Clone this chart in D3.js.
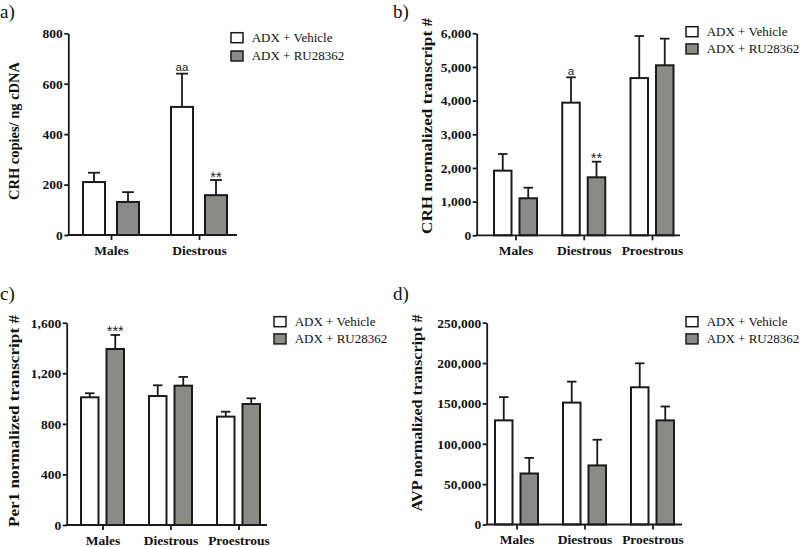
<!DOCTYPE html>
<html>
<head>
<meta charset="utf-8">
<script src="https://cdn.jsdelivr.net/npm/d3@7"></script>
<style>
  html, body { margin: 0; padding: 0; background: #fff; }
  svg { display: block; }
</style>
</head>
<body>
<svg id="chart" width="800" height="547"></svg>
<script>
// ---------------- DATA ----------------
const seriesNames = ["ADX + Vehicle", "ADX + RU28362"];
const categoriesA = ["Males", "Diestrous"];
const categoriesBCD = ["Males", "Diestrous", "Proestrous"];

// a) CRH copies / ng cDNA
const crhCopiesVehicle = [210, 508];
const crhCopiesVehicleSem = [37, 132];
const crhCopiesRU = [131, 158];
const crhCopiesRUSem = [39, 60];
const ticksA = [0, 200, 400, 600, 800];

// b) CRH normalized transcript #
const crhNormVehicle = [1920, 3940, 4670];
const crhNormVehicleSem = [495, 753, 1250];
const crhNormRU = [1100, 1723, 5050];
const crhNormRUSem = [314, 463, 791];
const ticksB = [0, 1000, 2000, 3000, 4000, 5000, 6000];

// c) Per1 normalized transcript #
const per1Vehicle = [1010, 1020, 857];
const per1VehicleSem = [32, 85, 39];
const per1RU = [1392, 1102, 957];
const per1RUSem = [111, 69, 45];
const ticksC = [0, 400, 800, 1200, 1600];

// d) AVP normalized transcript #
const avpVehicle = [129000, 151000, 170000];
const avpVehicleSem = [28800, 26000, 29700];
const avpRU = [63200, 73200, 129000];
const avpRUSem = [19300, 31800, 17200];
const ticksD = [0, 50000, 100000, 150000, 200000, 250000];

const panelLabels = ["a)", "b)", "c)", "d)"];
const yTitles = ["CRH copies/ ng cDNA", "CRH normalized transcript #",
                 "Per1 normalized transcript #", "AVP normalized transcript #"];

// significance marks: [category, series index, text]
const annotA = [["Diestrous", 0, "aa"], ["Diestrous", 1, "**"]];
const annotB = [["Diestrous", 0, "a"], ["Diestrous", 1, "**"]];
const annotC = [["Males", 1, "***"]];
const annotD = [];

// ---------------- LAYOUT ----------------
const INK = "#1a1a1a";
const GRAY = "#8a8b85";
const SERIF = "'Liberation Serif', 'Times New Roman', Times, serif";
const SANS = "'Liberation Sans', Arial, sans-serif";

const panels = [
  { cats: categoriesA, vals: [crhCopiesVehicle, crhCopiesRU], sems: [crhCopiesVehicleSem, crhCopiesRUSem],
    ticks: ticksA, annot: annotA, label: panelLabels[0], title: yTitles[0],
    x0: 68.3, x1: 237, c0: 111, c1: 199, yTop: 33.3, yBot: 235, barW: 22, off: 17,
    labX: 0, labY: 18, titleX: 19, titleY: 131, titleLen: 138,
    legX: 231, legY: 32.7, legDy: 18.3 },
  { cats: categoriesBCD, vals: [crhNormVehicle, crhNormRU], sems: [crhNormVehicleSem, crhNormRUSem],
    ticks: ticksB, annot: annotB, label: panelLabels[1], title: yTitles[1],
    x0: 476.7, x1: 680, c0: 515.5, c1: 652, yTop: 33.3, yBot: 235.3, barW: 17.5, off: 12.75,
    labX: 393, labY: 18, titleX: 432, titleY: 126, titleLen: 216,
    legX: 686, legY: 26.7, legDy: 17.2 },
  { cats: categoriesBCD, vals: [per1Vehicle, per1RU], sems: [per1VehicleSem, per1RUSem],
    ticks: ticksC, annot: annotC, label: panelLabels[2], title: yTitles[2],
    x0: 66.7, x1: 267, c0: 102.5, c1: 238.5, yTop: 322.7, yBot: 525, barW: 17.5, off: 12.75,
    labX: 0, labY: 300, titleX: 19, titleY: 421, titleLen: 212,
    legX: 274, legY: 316.7, legDy: 17.2 },
  { cats: categoriesBCD, vals: [avpVehicle, avpRU], sems: [avpVehicleSem, avpRUSem],
    ticks: ticksD, annot: annotD, label: panelLabels[3], title: yTitles[3],
    x0: 486.7, x1: 682, c0: 516.5, c1: 652.5, yTop: 322.7, yBot: 524.5, barW: 17.5, off: 12.75,
    labX: 393, labY: 300, titleX: 422, titleY: 413, titleLen: 197,
    legX: 686, legY: 316.7, legDy: 17.2 }
];

const svg = d3.select("#chart");
svg.append("rect").attr("width", 800).attr("height", 547).attr("fill", "#fff");
const fmt = d3.format(",");

panels.forEach(p => {
  const g = svg.append("g");
  const y = d3.scaleLinear().domain([0, d3.max(p.ticks)]).range([p.yBot, p.yTop]);
  const x = d3.scalePoint().domain(p.cats).range([p.c0, p.c1]);
  const inner = d3.scaleOrdinal().domain([0, 1]).range([-p.off, p.off]);
  const fills = ["#ffffff", GRAY];

  // bars + error bars
  const rows = [];
  p.cats.forEach((c, i) => {
    [0, 1].forEach(s => rows.push({ c, s, v: p.vals[s][i], e: p.sems[s][i] }));
  });
  const cap = p.barW * 0.54;

  g.selectAll(".err").data(rows).join("line")
    .attr("x1", d => x(d.c) + inner(d.s)).attr("x2", d => x(d.c) + inner(d.s))
    .attr("y1", d => y(d.v)).attr("y2", d => y(d.v + d.e))
    .attr("stroke", INK).attr("stroke-width", 1.8);
  g.selectAll(".cap").data(rows).join("line")
    .attr("x1", d => x(d.c) + inner(d.s) - cap / 2).attr("x2", d => x(d.c) + inner(d.s) + cap / 2)
    .attr("y1", d => y(d.v + d.e)).attr("y2", d => y(d.v + d.e))
    .attr("stroke", INK).attr("stroke-width", 1.8);
  g.selectAll(".bar").data(rows).join("rect")
    .attr("x", d => x(d.c) + inner(d.s) - p.barW / 2)
    .attr("y", d => y(d.v))
    .attr("width", p.barW)
    .attr("height", d => y(0) - y(d.v))
    .attr("fill", d => fills[d.s])
    .attr("stroke", INK).attr("stroke-width", 2);

  // annotations
  p.annot.forEach(([c, s, t]) => {
    const i = p.cats.indexOf(c);
    const top = y(p.vals[s][i] + p.sems[s][i]);
    const isStar = t.indexOf("*") >= 0;
    g.append("text")
      .attr("x", x(c) + inner(s))
      .attr("y", isStar ? top + 1.5 : top - 2.5)
      .attr("text-anchor", "middle")
      .attr("font-family", SANS)
      .attr("font-size", isStar ? 14.5 : 11.5)
      .attr("fill", "#222")
      .text(t);
  });

  // y axis
  const ya = g.append("g").attr("transform", `translate(${p.x0},0)`)
    .call(d3.axisLeft(y).tickValues(p.ticks).tickFormat(fmt).tickSize(4).tickPadding(1.5).tickSizeOuter(0));
  ya.select(".domain").attr("stroke", INK).attr("stroke-width", 1.8);
  ya.selectAll(".tick line").attr("stroke", INK).attr("stroke-width", 1.8);
  ya.selectAll(".tick text").attr("font-family", SERIF).attr("font-weight", "bold")
    .attr("font-size", 13.5).attr("fill", "#111");

  // x axis
  const xa = g.append("g").attr("transform", `translate(0,${p.yBot})`)
    .call(d3.axisBottom(x).tickSize(5).tickPadding(5).tickSizeOuter(0));
  xa.select(".domain").remove();
  xa.selectAll(".tick line").attr("stroke", INK).attr("stroke-width", 1.8);
  xa.selectAll(".tick text").attr("font-family", SERIF).attr("font-weight", "bold")
    .attr("font-size", 13.5).attr("fill", "#111");
  g.append("line").attr("x1", p.x0 - 0.9).attr("x2", p.x1)
    .attr("y1", p.yBot).attr("y2", p.yBot)
    .attr("stroke", INK).attr("stroke-width", 1.8);

  // y title
  g.append("text")
    .attr("transform", `translate(${p.titleX},${p.titleY}) rotate(-90)`)
    .attr("text-anchor", "middle")
    .attr("font-family", SERIF).attr("font-weight", "bold").attr("font-size", 15.5)
    .attr("textLength", p.titleLen).attr("lengthAdjust", "spacingAndGlyphs")
    .attr("fill", "#111")
    .text(p.title);

  // panel label
  g.append("text").attr("x", p.labX).attr("y", p.labY)
    .attr("font-family", SERIF).attr("font-size", 19).attr("fill", "#111")
    .text(p.label);

  // legend
  const leg = g.append("g");
  seriesNames.forEach((n, s) => {
    leg.append("rect").attr("x", p.legX).attr("y", p.legY + s * p.legDy)
      .attr("width", 12).attr("height", 10)
      .attr("fill", fills[s]).attr("stroke", INK).attr("stroke-width", 1.5);
    leg.append("text").attr("x", p.legX + 20.7).attr("y", p.legY + s * p.legDy + 9.3)
      .attr("font-family", SERIF).attr("font-size", 13).attr("fill", "#111")
      .text(n);
  });
});
</script>
</body>
</html>
